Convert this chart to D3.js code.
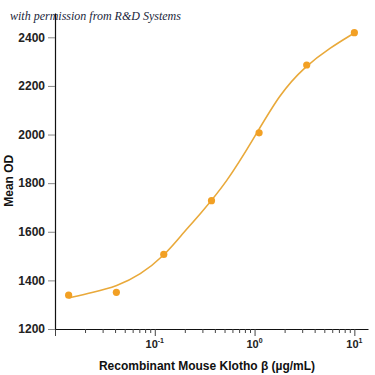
<!DOCTYPE html>
<html>
<head>
<meta charset="utf-8">
<script src="https://cdn.jsdelivr.net/npm/d3@7"></script>
<style>
  body { margin: 0; background: #fff; }
  .chart { width: 375px; height: 375px; }
</style>
</head>
<body>
<div class="chart"></div>
<script>
// measured points (3-fold dilution series)
const dose = [0.0137, 0.0412, 0.123, 0.370, 1.11, 3.33, 10];
const meanOD = [1339, 1351, 1507, 1728, 2007, 2286, 2419];

// fitted curve
const fitDose = [0.0137, 0.0242, 0.0415, 0.0711, 0.1265, 0.179, 0.284, 0.525, 0.964, 1.80, 3.20, 5.70, 10.1];
const fitOD = [1328, 1351, 1376, 1421, 1505, 1580, 1672, 1803, 1978, 2170, 2280, 2357, 2419];

const yTicks = [1200, 1400, 1600, 1800, 2000, 2200, 2400];
const decades = [0.01, 0.1, 1, 10];
const decadeLabels = ["", "-1", "0", "1"];

function chart() {
    let margin = { top: 13, right: 7, bottom: 46, left: 55 },
    width = 375 - margin.left - margin.right,
    height = 375 - margin.top - margin.bottom;

    const root = d3.select(".chart")
        .append("svg")
        .attr("width", 375)
        .attr("height", 375)
        .style("font-family", "'Liberation Sans', Arial, sans-serif");

    root.append("text")
        .text("with permission from R&D Systems")
        .attr("x", 10)
        .attr("y", 20)
        .attr("font-family", "'Liberation Serif', 'DejaVu Serif', serif")
        .attr("font-style", "italic")
        .attr("font-size", 12)
        .attr("fill", "#1b1f3b");

    const svg = root.append("g")
        .attr("transform", "translate(" + margin.left + "," + margin.top + ")");

    const x = d3.scaleLog()
        .domain([0.01, 13.7])
        .range([0, width]);

    const y = d3.scaleLinear()
        .domain([1200, 2500])
        .range([height, 0]);

    // all ticks 1..9 in each decade
    let xTickVals = [];
    decades.forEach(d => {
        for (let k = 1; k <= 9; k++) {
            const v = d * k;
            if (v <= 13.7) xTickVals.push(v);
        }
    });

    const xAxis = d3.axisBottom(x)
        .tickValues(xTickVals)
        .tickSizeOuter(0)
        .tickFormat("");

    const yAxis = d3.axisLeft(y)
        .tickValues(yTicks)
        .tickSize(7)
        .tickSizeOuter(0)
        .tickFormat(d3.format("d"));

    let xvalue = svg.append("g")
        .attr("class", "axis x-axis")
        .attr("transform", `translate(0, ${height})`)
        .call(xAxis);

    xvalue.select(".domain").attr("stroke", "#111").attr("stroke-width", 1.2);
    xvalue.selectAll(".tick line")
        .attr("y2", d => decades.includes(d) ? 7 : 4)
        .attr("stroke", "#444");

    decades.forEach((d, i) => {
        if (decadeLabels[i] === "") return;
        const t = xvalue.append("text")
            .attr("x", x(d))
            .attr("y", 19)
            .attr("text-anchor", "middle")
            .attr("fill", "#222")
            .attr("font-size", 11)
            .attr("font-weight", "bold");
        t.append("tspan").text("10");
        t.append("tspan").text(decadeLabels[i])
            .attr("font-size", 7)
            .attr("dy", -5);
    });

    xvalue.append("text")
        .text("Recombinant Mouse Klotho β (µg/mL)")
        .attr("x", 152)
        .attr("y", 41)
        .attr("text-anchor", "middle")
        .attr("fill", "#111")
        .attr("font-size", 12)
        .attr("font-weight", "bold");

    let yvalue = svg.append("g")
        .attr("class", "axis y-axis")
        .call(yAxis);

    yvalue.select(".domain").attr("stroke", "#111").attr("stroke-width", 1.2);
    yvalue.selectAll(".tick line").attr("stroke", "#888");
    yvalue.selectAll(".tick text")
        .attr("font-size", 12)
        .attr("font-weight", "bold")
        .attr("fill", "#222")
        .attr("x", -10);

    yvalue.append("text")
        .text("Mean OD")
        .attr("transform", `translate(${-margin.left + 13}, ${y(1810)}) rotate(-90)`)
        .attr("text-anchor", "middle")
        .attr("fill", "#111")
        .attr("font-size", 12)
        .attr("font-weight", "bold");

    const line = d3.line()
        .x((d, i) => x(fitDose[i]))
        .y(d => y(d))
        .curve(d3.curveBasis);

    svg.append("path")
        .datum(fitOD)
        .attr("fill", "none")
        .attr("stroke", "#e9a93a")
        .attr("stroke-width", 1.6)
        .attr("d", line);

    svg.selectAll(".dot")
        .data(meanOD)
        .enter()
        .append("circle")
        .attr("class", "dot")
        .attr("cx", (d, i) => x(dose[i]))
        .attr("cy", d => y(d))
        .attr("r", 3.6)
        .attr("fill", "#f2a024");
}
chart();
</script>
</body>
</html>
